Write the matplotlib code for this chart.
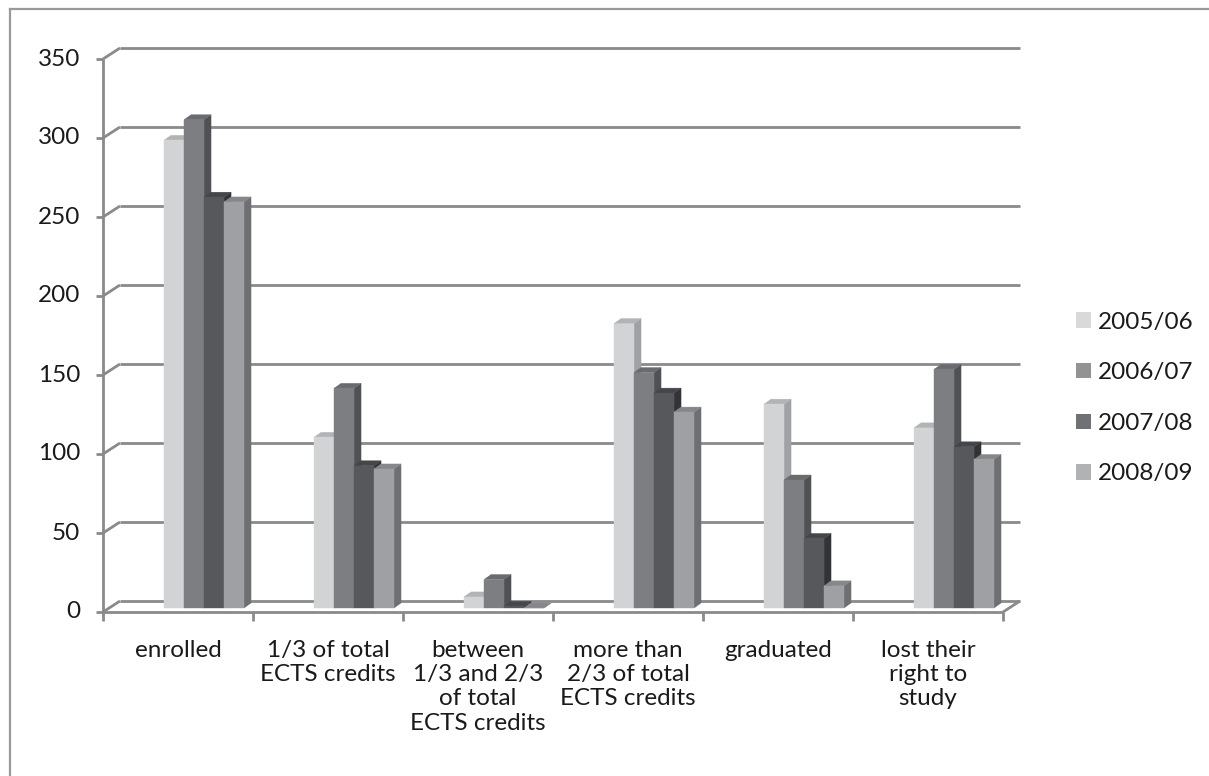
import numpy as np
import matplotlib
matplotlib.use("Agg")
import matplotlib.pyplot as plt
from matplotlib.patches import Polygon, Patch
from matplotlib.lines import Line2D
from matplotlib.transforms import IdentityTransform

# ---- data -------------------------------------------------------------
categories = [
    "enrolled",
    "1/3 of total\nECTS credits",
    "between\n1/3 and 2/3\nof total\nECTS credits",
    "more than\n2/3 of total\nECTS credits",
    "graduated",
    "lost their\nright to\nstudy",
]
years = ["2005/06", "2006/07", "2007/08", "2008/09"]
v_2005_06 = [296, 108, 7, 180, 129, 114]
v_2006_07 = [309, 139, 18, 149, 81, 151]
v_2007_08 = [260, 90, 1, 136, 44, 102]
v_2008_09 = [257, 88, 0, 124, 14, 94]
series = [v_2005_06, v_2006_07, v_2007_08, v_2008_09]
y_ticks = [0, 50, 100, 150, 200, 250, 300, 350]

# ---- style ------------------------------------------------------------
FONT = ["Lato", "DejaVu Sans"]
FS = 17.5
face_col = ["#d2d3d5", "#7d7e82", "#57585c", "#9ea0a3"]
top_col = ["#b2b3b6", "#6a6b6f", "#45464a", "#86878b"]
side_col = ["#a0a1a4", "#505155", "#323337", "#6e6f73"]
legend_col = ["#d9d9da", "#939395", "#707175", "#b1b2b4"]
grid_col = "#8a8a8a"
text_col = "#1a1a1a"

W, H, DPI = 1209, 776, 100
fig = plt.figure(figsize=(W / DPI, H / DPI), dpi=DPI)
fig.patch.set_facecolor("white")

ax = fig.add_axes([103 / W, (H - 612) / H, 900 / W, 553 / H])
ax.set_xlim(0, len(categories))
ax.set_ylim(0, 350)
ax.axis("off")

# depth offsets (pixels)
WALL_DX, WALL_DY = 17, 11   # back wall
BAR_DX, BAR_DY = 0, 4       # bar front plane
TOP_DX, TOP_DY = 7, 5       # bar thickness

ident = IdentityTransform()


def disp(x, y, dx=0, dy=0):
    p = ax.transData.transform((x, y))
    return (p[0] + dx, p[1] + dy)


def seg(p0, p1, **kw):
    ax.add_line(Line2D([p0[0], p1[0]], [p0[1], p1[1]], transform=ident,
                       clip_on=False, **kw))


line_kw = dict(color=grid_col, lw=2.0, solid_capstyle="butt", zorder=1)
n = len(categories)

# back wall gridlines and left wall edges
for v in y_ticks:
    seg(disp(0, v, WALL_DX, WALL_DY), disp(n, v, WALL_DX, WALL_DY), **line_kw)
    seg(disp(0, v), disp(0, v, WALL_DX, WALL_DY), **line_kw)

# floor front edge, right edge and front vertical axis
seg(disp(0, 0), disp(n, 0), **line_kw)
seg(disp(n, 0), disp(n, 0, WALL_DX, WALL_DY), **line_kw)
seg(disp(0, 0), disp(0, 350), **line_kw)

# value ticks and labels
for v in y_ticks:
    seg(disp(0, v, -7, 0), disp(0, v), **line_kw)
    x, y = disp(0, v, -23, 0)
    ax.text(x, y, f"{v}", transform=ident, ha="right", va="center",
            fontsize=FS, family=FONT, color=text_col)

# category ticks and labels
for i, lab in enumerate(categories):
    seg(disp(i, 0), disp(i, 0, 0, -9), **line_kw)
    x, y = disp(i + 0.5, 0, 0, -28)
    ax.text(x, y, lab, transform=ident, ha="center", va="top",
            fontsize=FS, family=FONT, color=text_col, linespacing=1.19)
seg(disp(n, 0), disp(n, 0, 0, -9), **line_kw)

# 3-D style columns
GROUP_OFFSET = 0.407
BAR_W = 0.1333
for i in range(n):
    for k, vals in enumerate(series):
        v = vals[i]
        x0 = i + GROUP_OFFSET + k * BAR_W
        x1 = x0 + BAR_W
        bl = disp(x0, 0, BAR_DX, BAR_DY)
        br = disp(x1, 0, BAR_DX, BAR_DY)
        tl = disp(x0, v, BAR_DX, BAR_DY)
        tr = disp(x1, v, BAR_DX, BAR_DY)
        z = 3 + i * 10 + k
        side = [br, (br[0] + TOP_DX, br[1] + TOP_DY),
                (tr[0] + TOP_DX, tr[1] + TOP_DY), tr]
        top = [tl, (tl[0] + TOP_DX, tl[1] + TOP_DY),
               (tr[0] + TOP_DX, tr[1] + TOP_DY), tr]
        front = [bl, br, tr, tl]
        for pts, c in ((side, side_col[k]), (top, top_col[k]), (front, face_col[k])):
            ax.add_patch(Polygon(pts, closed=True, transform=ident,
                                 facecolor=c, edgecolor=c, lw=0.3,
                                 zorder=z, clip_on=False))

# legend
handles = [Patch(facecolor=c, edgecolor="none") for c in legend_col]
leg = fig.legend(handles, years, loc="center left",
                 bbox_to_anchor=(1076 / W, 1 - 398 / H), frameon=False,
                 prop={"family": FONT, "size": FS}, handlelength=0.6,
                 handleheight=0.6, handletextpad=0.3, labelspacing=1.22,
                 borderpad=0.0, borderaxespad=0.0)
for t in leg.get_texts():
    t.set_color(text_col)

# outer frame
frame_kw = dict(color="#9a9a9a", lw=1.6, transform=fig.transFigure)
fig.add_artist(Line2D([10 / W, 10 / W], [0, 1 - 9 / H], **frame_kw))
fig.add_artist(Line2D([10 / W, 1], [1 - 9 / H, 1 - 9 / H], **frame_kw))

fig.savefig("out.png", dpi=DPI)
